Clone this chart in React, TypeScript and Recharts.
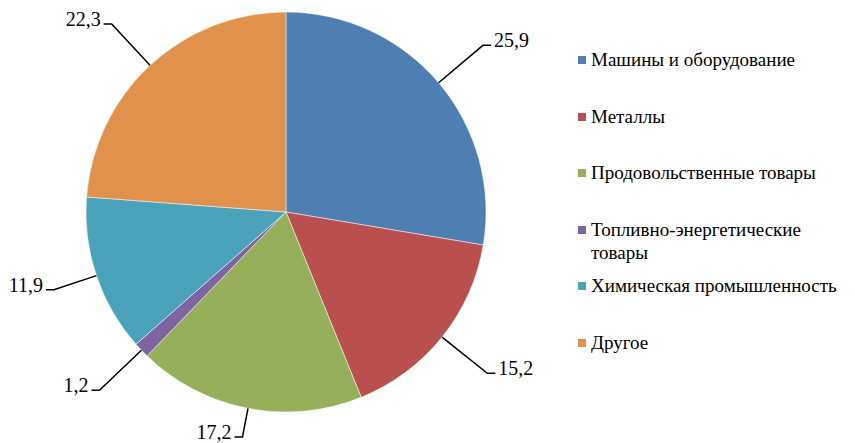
import { PieChart, Pie, Cell, Legend } from "recharts"

const categories = [
  "Машины и оборудование",
  "Металлы",
  "Продовольственные товары",
  "Топливно-энергетические товары",
  "Химическая промышленность",
  "Другое",
]
const values = [25.9, 15.2, 17.2, 1.2, 11.9, 22.3]
const colors = ["#4F7EB3", "#B9504E", "#95AF5A", "#7E64A0", "#4AA3BA", "#E0924C"]

const data = categories.map((name, i) => ({ name, value: values[i] }))

const FONT = "'Times New Roman', 'Liberation Serif', serif"
const RADIAN = Math.PI / 180

const fmt = (v: number) => String(v).replace(".", ",")

function renderLabel(props: any) {
  const { cx, cy, midAngle, outerRadius, value } = props
  const cos = Math.cos(-midAngle * RADIAN)
  const sin = Math.sin(-midAngle * RADIAN)
  const sx = cx + outerRadius * cos
  const sy = cy + outerRadius * sin
  // keep the elbow of the leader line inside the picture
  let r = outerRadius + 58
  if (cy + r * sin > 437) r = (437 - cy) / sin
  if (cy + r * sin < 24) r = (24 - cy) / sin
  if (cx + r * cos < 54) r = (54 - cx) / cos
  const ex = cx + r * cos
  const ey = cy + r * sin
  const right = cos >= 0
  const hx = ex + (right ? 8 : -8)
  return (
    <g>
      <polyline
        points={`${sx},${sy} ${ex},${ey} ${hx},${ey}`}
        fill="none"
        stroke="#000"
        strokeWidth={1.5}
      />
      <text
        x={hx + (right ? 3 : -3)}
        y={ey + 2}
        textAnchor={right ? "start" : "end"}
        fontFamily={FONT}
        fontSize={20}
        fill="#000"
      >
        {fmt(value)}
      </text>
    </g>
  )
}

function renderLegend() {
  return (
    <div style={{ fontFamily: FONT, fontSize: 19, color: "#000", width: 265 }}>
      {categories.map((c, i) => (
        <div key={c} style={{ height: 56.6, display: "flex", alignItems: "flex-start" }}>
          <span
            style={{
              display: "inline-block",
              width: 8,
              height: 8,
              background: colors[i],
              marginTop: 8,
              marginRight: 5,
              flexShrink: 0,
            }}
          />
          <span style={{ lineHeight: "23px" }}>{c}</span>
        </div>
      ))}
    </div>
  )
}

export default function App() {
  return (
    <div style={{ position: "absolute", left: 0, top: 0, background: "#fff" }}>
      <PieChart width={855} height={443} margin={{ top: 0, right: 0, bottom: 0, left: 0 }}>
        <Pie
          data={data}
          dataKey="value"
          nameKey="name"
          cx={286}
          cy={212}
          outerRadius={200}
          startAngle={90}
          endAngle={-270}
          stroke="#fff"
          strokeWidth={0.5}
          label={renderLabel}
          labelLine={false}
          isAnimationActive={false}
        >
          {data.map((d, i) => (
            <Cell key={d.name} fill={colors[i]} />
          ))}
        </Pie>
        <Legend
          content={renderLegend}
          layout="vertical"
          wrapperStyle={{ left: 578, top: 48, width: 265 }}
        />
      </PieChart>
    </div>
  )
}
